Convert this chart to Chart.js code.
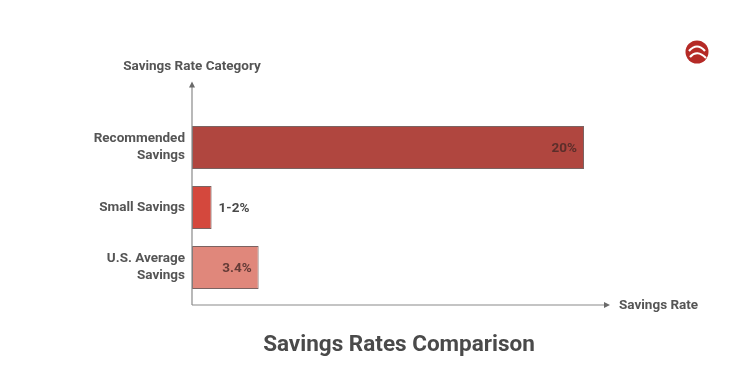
<!DOCTYPE html>
<html>
<head>
<meta charset="utf-8">
<script src="https://cdn.jsdelivr.net/npm/chart.js@4"></script>
<style>
html,body{margin:0;padding:0;background:#fff;}
#wrap{width:750px;height:375px;position:relative;}
</style>
</head>
<body>
<div id="wrap"><canvas id="c" width="750" height="375"></canvas></div>
<script>
const categories = [["Recommended","Savings"], "Small Savings", ["U.S. Average","Savings"]];
const values = [20, 1, 3.4];
const valueLabels = ["20%", "1-2%", "3.4%"];
const barColors = ["#b0463f", "#d4483d", "#e0877b"];
const chartTitle = "Savings Rates Comparison";
const xAxisTitle = "Savings Rate";
const yAxisTitle = "Savings Rate Category";

const FONT = "Roboto, 'Liberation Sans', sans-serif";

const extras = {
  id: 'extras',
  afterDatasetsDraw(chart) {
    const ctx = chart.ctx;
    const xs = chart.scales.x;
    const left = xs.getPixelForValue(0);
    const axisY = chart.chartArea.bottom + 7.5;
    ctx.save();
    // axes lines
    ctx.strokeStyle = '#8a8a8a';
    ctx.fillStyle = '#6a6a6a';
    ctx.lineWidth = 1.2;
    ctx.beginPath();
    ctx.moveTo(left, axisY);
    ctx.lineTo(left, chart.chartArea.top - 32);
    ctx.moveTo(left, axisY);
    ctx.lineTo(xs.right + 22, axisY);
    ctx.stroke();
    // arrows
    ctx.beginPath();
    const ty = chart.chartArea.top - 36;
    ctx.moveTo(left, ty); ctx.lineTo(left - 3, ty + 6); ctx.lineTo(left + 3, ty + 6); ctx.closePath(); ctx.fill();
    const ax = xs.right + 26;
    ctx.beginPath();
    ctx.moveTo(ax, axisY); ctx.lineTo(ax - 6, axisY - 3); ctx.lineTo(ax - 6, axisY + 3); ctx.closePath(); ctx.fill();
    // value labels
    const meta = chart.getDatasetMeta(0);
    ctx.font = "bold 13.5px " + FONT;
    ctx.textBaseline = 'middle';
    meta.data.forEach((bar, i) => {
      const w = bar.x - bar.base;
      if (w > 50) {
        ctx.textAlign = 'right';
        ctx.fillStyle = 'rgba(70,40,38,0.8)';
        ctx.fillText(valueLabels[i], bar.x - 7, bar.y + 1);
      } else {
        ctx.textAlign = 'left';
        ctx.fillStyle = '#4a4a4a';
        ctx.fillText(valueLabels[i], bar.x + 7, bar.y + 1);
      }
    });
    // axis titles
    ctx.fillStyle = '#555';
    ctx.font = "bold 13.5px " + FONT;
    ctx.textAlign = 'center';
    ctx.fillText(yAxisTitle, left, 67);
    ctx.textAlign = 'left';
    ctx.fillText(xAxisTitle, xs.right + 35, axisY + 1);
    // chart title
    ctx.fillStyle = '#4a4a4a';
    ctx.font = "bold 22.5px " + FONT;
    ctx.textAlign = 'center';
    ctx.fillText(chartTitle, 399, 345);
    // logo
    const cx = 697, cy = 52;
    ctx.fillStyle = '#b52a26';
    ctx.beginPath(); ctx.arc(cx, cy, 11.5, 0, Math.PI * 2); ctx.fill();
    ctx.strokeStyle = '#fff';
    ctx.lineWidth = 2.2;
    ctx.beginPath();
    ctx.moveTo(cx - 8, cy - 1); ctx.quadraticCurveTo(cx, cy - 10, cx + 8, cy - 1);
    ctx.stroke();
    ctx.beginPath();
    ctx.moveTo(cx - 7, cy + 5); ctx.quadraticCurveTo(cx, cy - 3, cx + 9, cy + 6);
    ctx.stroke();
    ctx.restore();
  }
};

new Chart(document.getElementById('c'), {
  type: 'bar',
  data: {
    labels: categories,
    datasets: [{
      data: values,
      backgroundColor: barColors,
      borderColor: 'rgba(90,60,58,0.8)',
      borderWidth: 1,
      borderSkipped: false,
      barPercentage: 0.72,
      categoryPercentage: 1
    }]
  },
  options: {
    indexAxis: 'y',
    responsive: false,
    animation: false,
    layout: { padding: { top: 117.5, bottom: 77.5, right: 166, left: 0 } },
    plugins: { legend: { display: false }, tooltip: { enabled: false } },
    scales: {
      x: { display: false, min: 0, max: 20 },
      y: {
        grid: { display: false, drawTicks: false },
        border: { display: false },
        afterFit(scale) { scale.width = 192; },
        ticks: {
          color: '#555',
          padding: 7,
          font: { family: FONT, size: 13.5, weight: 'bold', lineHeight: 1.26 }
        }
      }
    }
  },
  plugins: [extras]
});
</script>
</body>
</html>
